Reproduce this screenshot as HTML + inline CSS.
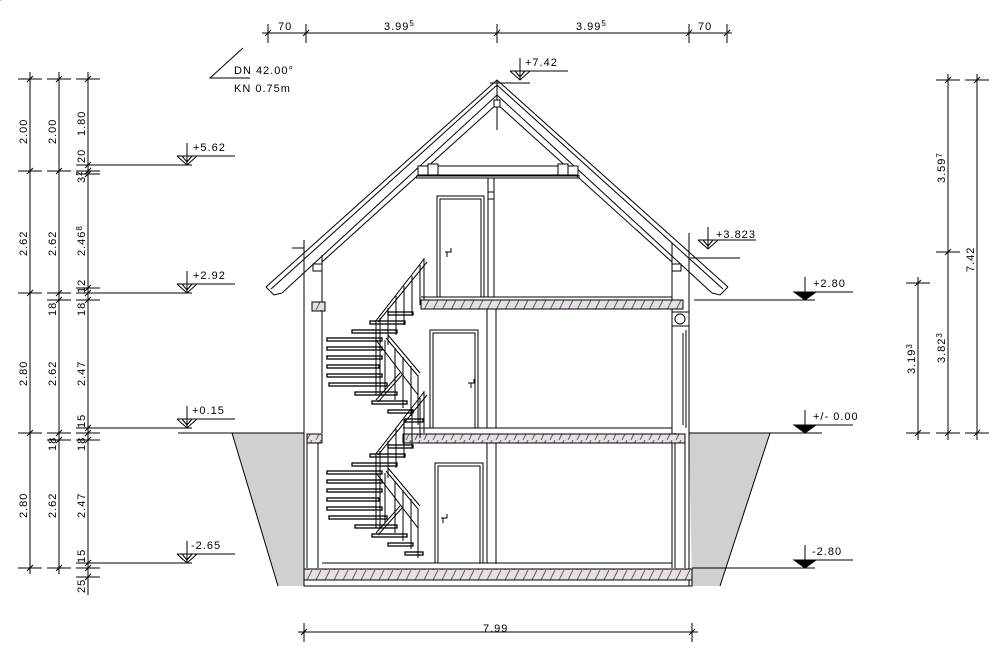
<!DOCTYPE html>
<html><head><meta charset="utf-8"><style>
html,body{margin:0;padding:0;background:#fff}
svg{display:block}
text{font-family:"Liberation Sans",sans-serif;font-size:11px;letter-spacing:1px;fill:#000}
</style></head><body>
<svg width="1000" height="649" viewBox="0 0 1000 649" xmlns="http://www.w3.org/2000/svg">
<defs>
<pattern id="h" width="9" height="10" patternUnits="userSpaceOnUse">
<rect width="9" height="10" fill="#e4e0e4"/><path d="M1 10 L6 0" stroke="#705070" stroke-width="1"/>
</pattern>
<g id="tk"><line x1="-12" y1="0" x2="12" y2="0"/><line x1="-3" y1="3" x2="3" y2="-3"/></g>
<g id="tv"><line x1="0" y1="-9" x2="0" y2="10"/><line x1="-3" y1="3" x2="3" y2="-3"/></g>
</defs>
<g stroke="#000" stroke-width="1" fill="none">
<!-- excavation -->
<polygon points="232,433 304,433 304,586 278,586" fill="#d0d0d0" stroke="none"/>
<polygon points="689,433 770,433 720,586 692,586" fill="#d0d0d0" stroke="none"/>
<line x1="232" y1="433" x2="278" y2="586"/><line x1="770" y1="433" x2="720" y2="586"/>
<line x1="178" y1="433" x2="304" y2="433"/><line x1="689" y1="433" x2="822" y2="433"/>

<!-- roof -->
<polyline points="266,287 497,80 728,287"/>
<polyline points="271,289 497,85 723,289"/>
<polyline points="282,293 497,95 712,293"/>
<polyline points="322,262 497,104 672,262"/>
<polyline points="266,287 274,295 282,293"/><polyline points="728,287 720,295 712,293"/>
<line x1="497" y1="80" x2="497" y2="130"/>
<rect x="494" y="100" width="6" height="7" fill="#fff"/>
<line x1="490" y1="83" x2="530" y2="83"/>
<!-- collar -->
<rect x="418" y="166" width="160" height="9" fill="#fff"/>
<rect x="428" y="164" width="10" height="11" fill="#fff"/><rect x="558" y="164" width="10" height="11" fill="#fff"/>
<line x1="416" y1="178" x2="580" y2="178"/><line x1="416" y1="176" x2="580" y2="176"/>
<line x1="488" y1="178" x2="488" y2="297"/><line x1="494" y1="178" x2="494" y2="297"/>
<rect x="488" y="192" width="6" height="7" fill="#fff"/>

<!-- walls -->
<line x1="304" y1="240" x2="304" y2="586"/><line x1="322" y1="255" x2="322" y2="433"/>
<line x1="307" y1="443" x2="307" y2="568"/><line x1="318" y1="443" x2="318" y2="568"/>
<line x1="292" y1="248" x2="304" y2="248"/>
<rect x="313" y="264" width="9" height="7" fill="#fff"/>
<rect x="312" y="302" width="13" height="9" fill="url(#h)"/>
<line x1="689" y1="233" x2="689" y2="586"/><line x1="672" y1="243" x2="672" y2="568"/>
<rect x="672" y="264" width="9" height="7" fill="#fff"/>
<rect x="672" y="312" width="17" height="14" fill="#fff"/><circle cx="680" cy="319" r="5"/>
<line x1="683" y1="333" x2="683" y2="425"/><line x1="686" y1="330" x2="686" y2="428"/>
<line x1="675" y1="433" x2="675" y2="568"/><line x1="685" y1="443" x2="685" y2="568"/>

<!-- floors -->
<line x1="421" y1="297" x2="672" y2="297"/>
<rect x="421" y="300" width="262" height="9" fill="url(#h)"/>
<line x1="403" y1="428" x2="672" y2="428"/>
<rect x="403" y="434" width="282" height="9" fill="url(#h)"/>
<rect x="307" y="434" width="15" height="9" fill="url(#h)"/>
<line x1="322" y1="563" x2="672" y2="563"/>
<rect x="304" y="569" width="388" height="11" fill="url(#h)"/>
<rect x="304" y="580" width="388" height="6"/>
<line x1="487" y1="309" x2="487" y2="428"/><line x1="496" y1="309" x2="496" y2="428"/>
<line x1="487" y1="443" x2="487" y2="563"/><line x1="496" y1="443" x2="496" y2="563"/>

<!-- doors -->
<rect x="437" y="196" width="47" height="101"/><rect x="440" y="199" width="41" height="98"/>
<path d="M445 252h6v-4M447 252v5"/>
<rect x="430" y="330" width="48" height="98"/><rect x="433" y="333" width="42" height="95"/>
<path d="M468 383h6v-4M471 383v5"/>
<rect x="435" y="463" width="48" height="100"/><rect x="438" y="466" width="42" height="97"/>
<path d="M441 518h6v-4M443 518v5"/>

<!-- stairs upper flight -->
<g id="st">
<g stroke-width="1.3">
<rect x="327" y="338" width="55" height="3"/><rect x="327" y="347" width="55" height="3"/>
<rect x="327" y="356" width="55" height="3"/><rect x="327" y="365" width="52" height="3"/>
<rect x="327" y="374" width="55" height="3"/><rect x="329" y="383" width="58" height="3"/>
<rect x="355" y="392" width="42" height="3"/><rect x="372" y="401" width="35" height="3"/>
<rect x="388" y="410" width="25" height="3"/><rect x="405" y="419" width="18" height="3"/>
<rect x="352" y="330" width="45" height="3"/><rect x="370" y="321" width="35" height="3"/>
<rect x="388" y="312" width="25" height="3"/>
</g>
<polyline points="375,322 424,259"/><polyline points="378,322 427,262"/>
<line x1="376" y1="322" x2="376" y2="395"/><line x1="380" y1="318" x2="380" y2="395"/>
<line x1="388" y1="308" x2="388" y2="345"/><line x1="396" y1="296" x2="396" y2="335"/>
<line x1="404" y1="286" x2="404" y2="325"/><line x1="412" y1="276" x2="412" y2="315"/>
<line x1="420" y1="265" x2="420" y2="305"/><line x1="424" y1="258" x2="424" y2="300"/>
<polyline points="386,338 418,376"/><polyline points="388,335 420,373"/>
<line x1="395" y1="348" x2="395" y2="400"/><line x1="403" y1="357" x2="403" y2="408"/>
<line x1="411" y1="366" x2="411" y2="416"/><line x1="418" y1="375" x2="418" y2="425"/>
<line x1="385" y1="340" x2="385" y2="390"/>
<polyline points="376,400 400,373"/><polyline points="378,402 402,375"/>
<line x1="376" y1="340" x2="418" y2="395"/>
</g>
<use href="#st" transform="translate(0,133)"/>

<!-- left dims -->
<line x1="30" y1="72" x2="30" y2="574"/><line x1="59" y1="72" x2="59" y2="574"/><line x1="88" y1="72" x2="88" y2="595"/>
<g>
<use href="#tk" x="30" y="79"/><use href="#tk" x="30" y="171"/><use href="#tk" x="30" y="293"/><use href="#tk" x="30" y="433"/><use href="#tk" x="30" y="568"/>
<use href="#tk" x="59" y="79"/><use href="#tk" x="59" y="171"/><use href="#tk" x="59" y="293"/><use href="#tk" x="59" y="300"/><use href="#tk" x="59" y="433"/><use href="#tk" x="59" y="440"/><use href="#tk" x="59" y="568"/>
<use href="#tk" x="88" y="79"/><use href="#tk" x="88" y="165"/><use href="#tk" x="88" y="171"/><use href="#tk" x="88" y="174"/><use href="#tk" x="88" y="288"/><use href="#tk" x="88" y="293"/><use href="#tk" x="88" y="300"/><use href="#tk" x="88" y="428"/><use href="#tk" x="88" y="433"/><use href="#tk" x="88" y="440"/><use href="#tk" x="88" y="563"/><use href="#tk" x="88" y="568"/><use href="#tk" x="88" y="577"/>
</g>
<line x1="88" y1="165" x2="192" y2="165"/><line x1="88" y1="293" x2="192" y2="293"/>
<line x1="88" y1="428" x2="192" y2="428"/><line x1="88" y1="563" x2="192" y2="563"/>

<!-- open level markers -->
<g id="om"><line x1="0" y1="-22" x2="0" y2="0"/><polyline points="-10,-9 0,0 10,-9"/><line x1="-10" y1="-9" x2="48" y2="-9"/><line x1="-5" y1="-9" x2="0" y2="-3"/><line x1="5" y1="-9" x2="0" y2="-3"/></g>
<use href="#om" x="187" y="165"/><use href="#om" x="187" y="293"/><use href="#om" x="187" y="428"/><use href="#om" x="187" y="563"/>
<use href="#om" x="520" y="80"/><use href="#om" x="708" y="249"/>
<line x1="690" y1="258" x2="740" y2="258"/>

<!-- filled markers -->
<g id="fm"><line x1="0" y1="-23" x2="0" y2="0"/><polygon points="-11,-8 11,-8 0,0" fill="#000"/><line x1="-11" y1="-8" x2="48" y2="-8"/></g>
<use href="#fm" x="805" y="300"/><use href="#fm" x="805" y="433"/><use href="#fm" x="805" y="568"/>
<line x1="694" y1="300" x2="815" y2="300"/><line x1="692" y1="568" x2="815" y2="568"/>

<!-- right dims -->
<line x1="918" y1="277" x2="918" y2="440"/><line x1="948" y1="74" x2="948" y2="440"/><line x1="977" y1="74" x2="977" y2="440"/>
<use href="#tk" x="918" y="283"/><use href="#tk" x="918" y="433"/>
<use href="#tk" x="948" y="80"/><use href="#tk" x="948" y="252"/><use href="#tk" x="948" y="433"/>
<use href="#tk" x="977" y="80"/><use href="#tk" x="977" y="433"/>

<!-- top dim -->
<line x1="262" y1="33" x2="732" y2="33"/>
<use href="#tv" x="268" y="33"/><use href="#tv" x="306" y="33"/><use href="#tv" x="497" y="33"/><use href="#tv" x="689" y="33"/><use href="#tv" x="727" y="33"/>
<!-- bottom dim -->
<line x1="298" y1="632" x2="698" y2="632"/>
<use href="#tv" x="304" y="632"/><use href="#tv" x="692" y="632"/>
<!-- DN -->
<polyline points="243,48 210,78 250,78"/>
</g>

<g>
<text x="234" y="74">DN 42.00°</text><text x="234" y="92">KN 0.75m</text>
<text x="278" y="30" font-size="10">70</text><text x="384" y="30" font-size="10">3.99<tspan dy="-4" font-size="8">5</tspan></text>
<text x="576" y="30" font-size="10">3.99<tspan dy="-4" font-size="8">5</tspan></text><text x="698" y="30" font-size="10">70</text>
<text x="483" y="632" font-size="10">7.99</text>
<text x="193" y="151">+5.62</text><text x="193" y="279">+2.92</text><text x="192" y="414">+0.15</text><text x="191" y="549">-2.65</text>
<text x="525" y="66">+7.42</text><text x="716" y="238">+3.823</text>
<text x="813" y="287">+2.80</text><text x="813" y="420">+/- 0.00</text><text x="812" y="555">-2.80</text>
</g>
<g font-size="11">
<text transform="translate(27,144) rotate(-90)">2.00</text><text transform="translate(56,144) rotate(-90)">2.00</text><text transform="translate(85,136) rotate(-90)">1.80</text>
<text transform="translate(85,163) rotate(-90)">20</text><text transform="translate(85,183) rotate(-90)">3<tspan dy="-3" font-size="8">2</tspan></text>
<text transform="translate(27,256) rotate(-90)">2.62</text><text transform="translate(56,256) rotate(-90)">2.62</text><text transform="translate(85,256) rotate(-90)">2.46<tspan dy="-3" font-size="8">8</tspan></text>
<text transform="translate(85,293) rotate(-90)">12</text>
<text transform="translate(56,316) rotate(-90)">18</text><text transform="translate(85,316) rotate(-90)">18</text>
<text transform="translate(27,386) rotate(-90)">2.80</text><text transform="translate(56,386) rotate(-90)">2.62</text><text transform="translate(85,386) rotate(-90)">2.47</text>
<text transform="translate(85,428) rotate(-90)">15</text>
<text transform="translate(56,451) rotate(-90)">18</text><text transform="translate(85,451) rotate(-90)">18</text>
<text transform="translate(27,518) rotate(-90)">2.80</text><text transform="translate(56,518) rotate(-90)">2.62</text><text transform="translate(85,518) rotate(-90)">2.47</text>
<text transform="translate(85,563) rotate(-90)">15</text><text transform="translate(85,593) rotate(-90)">25</text>
<text transform="translate(915,374) rotate(-90)">3.19<tspan dy="-3" font-size="8">3</tspan></text>
<text transform="translate(945,363) rotate(-90)">3.82<tspan dy="-3" font-size="8">3</tspan></text>
<text transform="translate(945,183) rotate(-90)">3.59<tspan dy="-3" font-size="8">7</tspan></text>
<text transform="translate(974,272) rotate(-90)">7.42</text>
</g>
</svg>
</body></html>
